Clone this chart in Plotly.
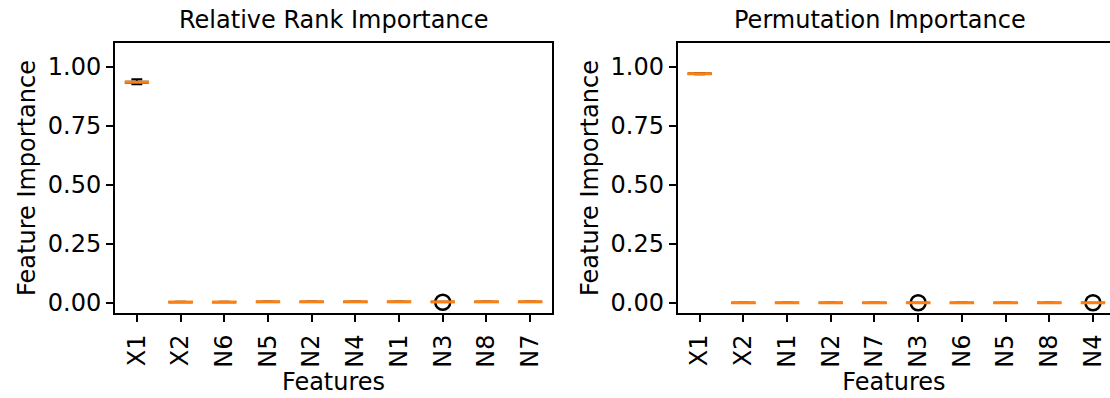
import plotly.graph_objects as go

# ---- data ----
rank_features = ["X1", "X2", "N6", "N5", "N2", "N4", "N1", "N3", "N8", "N7"]
rank_q1 = [0.932, 0.0035, 0.0035, 0.0045, 0.0045, 0.0045, 0.0045, 0.0040, 0.0045, 0.0045]
rank_median = [0.934, 0.004, 0.004, 0.005, 0.005, 0.005, 0.005, 0.0045, 0.005, 0.005]
rank_q3 = [0.936, 0.0045, 0.0045, 0.0055, 0.0055, 0.0055, 0.0055, 0.0050, 0.0055, 0.0055]
rank_low = [0.925, 0.003, 0.003, 0.004, 0.004, 0.004, 0.004, 0.0040, 0.004, 0.004]
rank_high = [0.947, 0.005, 0.005, 0.006, 0.006, 0.006, 0.006, 0.0050, 0.006, 0.006]
rank_out_x = ["N3"]
rank_out_y = [0.003]

perm_features = ["X1", "X2", "N1", "N2", "N7", "N3", "N6", "N5", "N8", "N4"]
perm_q1 = [0.9690, 0.0005, 0.0005, 0.0005, 0.0005, 0.0005, 0.0005, 0.0005, 0.0005, 0.0005]
perm_median = [0.9700, 0.0010, 0.0010, 0.0010, 0.0010, 0.0010, 0.0010, 0.0010, 0.0010, 0.0010]
perm_q3 = [0.9710, 0.0015, 0.0015, 0.0015, 0.0015, 0.0015, 0.0015, 0.0015, 0.0015, 0.0015]
perm_low = [0.9680, 0.0, 0.0, 0.0, 0.0, 0.0005, 0.0, 0.0, 0.0, 0.0005]
perm_high = [0.9720, 0.002, 0.002, 0.002, 0.002, 0.0015, 0.002, 0.002, 0.002, 0.0015]
perm_out_x = ["N3", "N4"]
perm_out_y = [0.001, 0.001]

titles = ["Relative Rank Importance", "Permutation Importance"]

W, H = 1110, 398
ORANGE = "#ff7f0e"
FONT = "DejaVu Sans"
FS = 24

fig = go.Figure()

def add_panel(xa, ya, feats, q1, med, q3, lo, hi, ox, oy):
    fig.add_trace(go.Box(
        x=feats, q1=q1, median=med, q3=q3, lowerfence=lo, upperfence=hi,
        xaxis=xa, yaxis=ya, width=0.5, whiskerwidth=0.5,
        line=dict(color="black", width=2), fillcolor="rgba(0,0,0,0)",
        boxpoints=False, showlegend=False, hoverinfo="skip"))
    fig.add_trace(go.Scatter(
        x=ox, y=oy, xaxis=xa, yaxis=ya, mode="markers",
        marker=dict(symbol="circle-open", size=15, color="black",
                    line=dict(color="black", width=2.5)),
        showlegend=False, hoverinfo="skip"))
    fig.add_trace(go.Scatter(
        x=feats, y=med, xaxis=xa, yaxis=ya, mode="markers",
        marker=dict(symbol="line-ew", size=17.5,
                    line=dict(color=ORANGE, width=3)),
        showlegend=False, hoverinfo="skip"))

add_panel("x", "y", rank_features, rank_q1, rank_median, rank_q3,
          rank_low, rank_high, rank_out_x, rank_out_y)
add_panel("x2", "y2", perm_features, perm_q1, perm_median, perm_q3,
          perm_low, perm_high, perm_out_x, perm_out_y)

d1 = [115 / W, 552 / W]
d2 = [677.8 / W, 1.0]
yr = [-0.0423, 1.1]

common_x = dict(
    type="category", showline=True, linecolor="black", linewidth=2,
    ticks="outside", ticklen=7, tickwidth=2, tickcolor="black",
    tickangle=-90, showgrid=False, zeroline=False, ticklabelstandoff=3,
    tickfont=dict(family=FONT, size=FS, color="black"),
    title=dict(text="Features", font=dict(family=FONT, size=FS, color="black"), standoff=5),
)
common_y = dict(
    showline=True, linecolor="black", linewidth=2, range=yr,
    ticks="outside", ticklen=7, tickwidth=2, tickcolor="black",
    tickvals=[0, 0.25, 0.5, 0.75, 1.0], ticktext=["0.00", "0.25", "0.50", "0.75", "1.00"],
    showgrid=False, zeroline=False,
    tickfont=dict(family=FONT, size=FS, color="black"),
    title=dict(text="Feature Importance", font=dict(family=FONT, size=FS, color="black"), standoff=5),
)

fig.update_layout(
    width=W, height=H,
    margin=dict(l=0, r=0, t=43, b=85, autoexpand=False),
    paper_bgcolor="white", plot_bgcolor="white",
    xaxis=dict(common_x, domain=d1, range=[-0.5, 9.5], mirror=True, anchor="y"),
    yaxis=dict(common_y, domain=[0, 1], mirror=True, anchor="x"),
    xaxis2=dict(common_x, domain=d2, range=[-0.5, 9.39], mirror=True, anchor="y2"),
    yaxis2=dict(common_y, domain=[0, 1], anchor="x2"),
    annotations=[
        dict(text=titles[0], xref="paper", yref="paper", x=(d1[0] + d1[1]) / 2,
             y=1, yshift=7, xanchor="center", yanchor="bottom", showarrow=False,
             font=dict(family=FONT, size=FS, color="black")),
        dict(text=titles[1], xref="paper", yref="paper", x=880 / W,
             y=1, yshift=7, xanchor="center", yanchor="bottom", showarrow=False,
             font=dict(family=FONT, size=FS, color="black")),
    ],
)

fig.write_html("out.html")
